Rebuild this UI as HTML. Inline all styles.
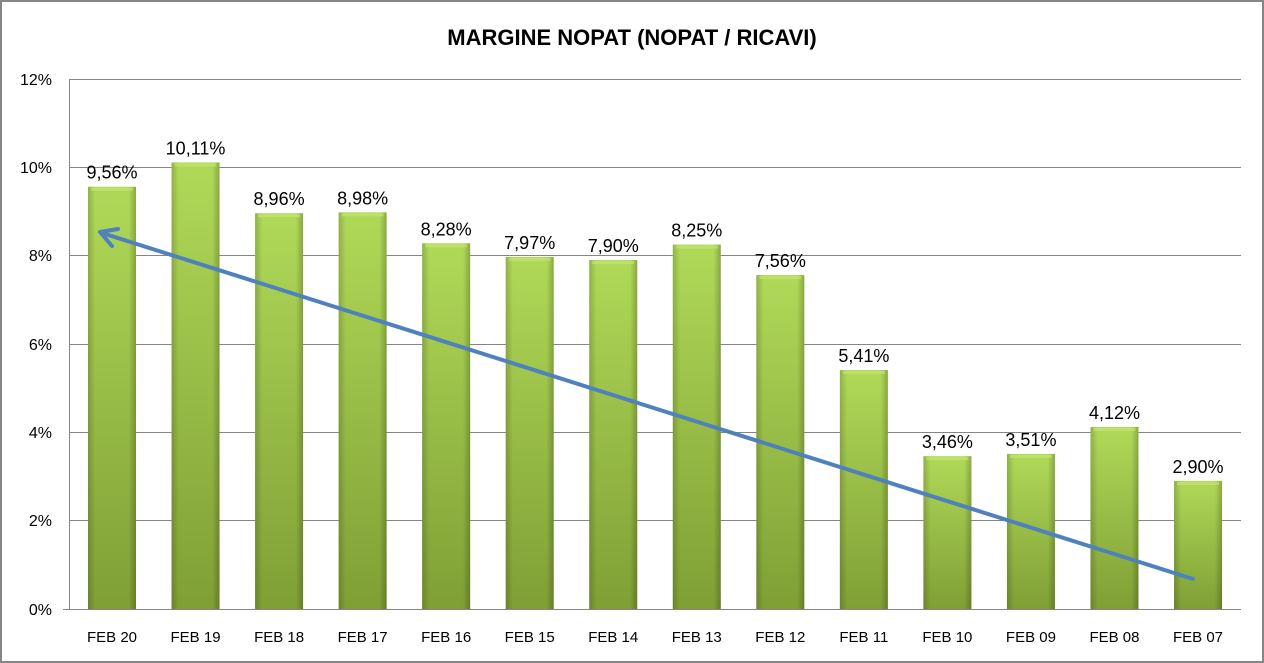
<!DOCTYPE html>
<html><head><style>
body{margin:0;background:#fff}
svg{display:block}
text{font-family:"Liberation Sans",sans-serif}
</style></head><body>
<svg width="1264" height="663" xmlns="http://www.w3.org/2000/svg">
<defs>
<linearGradient id="g" x1="0" y1="0" x2="0" y2="1">
<stop offset="0" stop-color="#b0d958"/><stop offset="1" stop-color="#7f9f35"/>
</linearGradient>
<linearGradient id="h" x1="0" y1="0" x2="1" y2="0">
<stop offset="0" stop-color="#000" stop-opacity="0.18"/>
<stop offset="0.15" stop-color="#000" stop-opacity="0"/>
<stop offset="0.85" stop-color="#000" stop-opacity="0"/>
<stop offset="1" stop-color="#000" stop-opacity="0.22"/>
</linearGradient>
</defs>
<rect x="1" y="1" width="1262" height="661" fill="#fff" stroke="#868686" stroke-width="2"/>
<text x="632" y="45" text-anchor="middle" font-size="22" font-weight="bold">MARGINE NOPAT (NOPAT / RICAVI)</text>
<g stroke="#868686" stroke-width="1">
<line x1="70" y1="79.5" x2="1241" y2="79.5"/>
<line x1="70" y1="167.5" x2="1241" y2="167.5"/>
<line x1="70" y1="255.5" x2="1241" y2="255.5"/>
<line x1="70" y1="344.5" x2="1241" y2="344.5"/>
<line x1="70" y1="432.5" x2="1241" y2="432.5"/>
<line x1="70" y1="520.5" x2="1241" y2="520.5"/>
<line x1="63" y1="609.5" x2="1241" y2="609.5"/>
<line x1="69.5" y1="79" x2="69.5" y2="609"/>
</g>
<g font-size="16" text-anchor="end" fill="#000">
<text x="52" y="85">12%</text><text x="52" y="173">10%</text><text x="52" y="261">8%</text>
<text x="52" y="350">6%</text><text x="52" y="438">4%</text><text x="52" y="526">2%</text><text x="52" y="615">0%</text>
</g>
<g id="bars"></g>
<g stroke="#4f81bd" stroke-width="4" stroke-linecap="round" fill="none">
<line x1="1193" y1="579" x2="102" y2="233"/>
<polyline points="112,246 100,232 118,229" stroke-linejoin="round"/>
</g>
</svg>
<script>
var d=[["FEB 20",9.56],["FEB 19",10.11],["FEB 18",8.96],["FEB 17",8.98],["FEB 16",8.28],["FEB 15",7.97],["FEB 14",7.90],["FEB 13",8.25],["FEB 12",7.56],["FEB 11",5.41],["FEB 10",3.46],["FEB 09",3.51],["FEB 08",4.12],["FEB 07",2.90]];
var s='';
d.forEach(function(e,i){
var c=112+i*83.54,top=609-e[1]*44.17,x=c-24,h=609-top;
s+='<rect x="'+x+'" y="'+top+'" width="48" height="'+h+'" fill="url(#g)"/>';
s+='<rect x="'+x+'" y="'+top+'" width="48" height="'+h+'" fill="url(#h)"/>';
s+='<rect x="'+(x+3)+'" y="'+(top+1)+'" width="42" height="3" fill="#c6e77a" opacity="0.6"/>';
s+='<text x="'+c+'" y="'+(top-8)+'" text-anchor="middle" font-size="18">'+e[1].toFixed(2).replace(".",",")+'%</text>';
s+='<text x="'+c+'" y="642" text-anchor="middle" font-size="15">'+e[0]+'</text>';
});
document.getElementById('bars').innerHTML=s;
</script>
</body></html>
